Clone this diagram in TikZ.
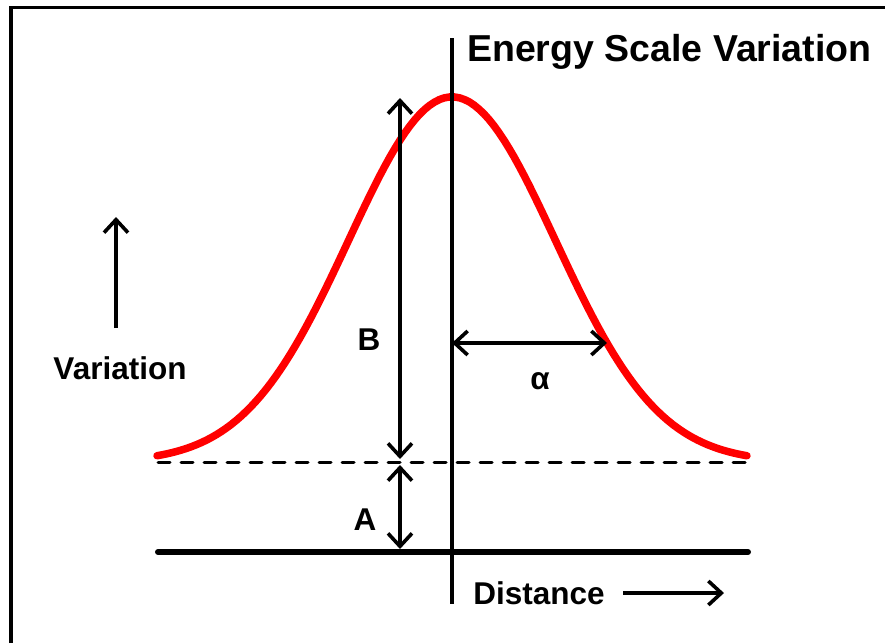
\documentclass[tikz,border=0pt]{standalone}
\usepackage{fontspec}
\setmainfont{Liberation Sans}
\usetikzlibrary{arrows.meta}
\tikzset{
  lbl/.style={font=\bfseries\fontsize{31.5}{36}\selectfont, inner sep=0pt},
  ttl/.style={font=\bfseries\fontsize{37.5}{42}\selectfont, inner sep=0pt, anchor=west},
  dim/.style={line width=3.6pt, {Straight Barb[length=13pt,width=24pt,line width=3.6pt]}-{Straight Barb[length=13pt,width=24pt,line width=3.6pt]}},
  onearrow/.style={line width=3.6pt, -{Straight Barb[length=13pt,width=24pt,line width=3.6pt]}},
  curve/.style={red, line width=7.5pt, line cap=round},
}
\begin{document}
\begin{tikzpicture}[x=1pt,y=-1pt]
\useasboundingbox (0,0) rectangle (885,643);
% frame
\draw[line width=3.5pt] (11,643) -- (11,7.5) -- (890,7.5);
% coordinates
\coordinate (axT) at (452,38);
\coordinate (axB) at (452,604);
\coordinate (baseL) at (158,552);
\coordinate (baseR) at (748,552);
\coordinate (dashL) at (158,462);
\coordinate (dashR) at (748,462);
\coordinate (bTop) at (400,98);
\coordinate (bBot) at (400,459);
\coordinate (aTop) at (400,465);
\coordinate (aBot) at (400,549);
\coordinate (alL) at (452,343);
\coordinate (alR) at (607,343);
\coordinate (vB) at (116,328);
\coordinate (vT) at (116,217);
\coordinate (dL) at (623,593);
\coordinate (dR) at (724,593);
% curve
\draw[curve] plot[domain=-2.95:2.95, samples=120, variable=\t] ({452+100*\t},{462-365*exp(-(\t*\t)/2.1432)});
% lines
\draw[line width=3.5pt] (axT) -- (axB);
\draw[line width=6pt, line cap=round] (baseL) -- (baseR);
\draw[line width=3pt, line cap=round, dash pattern=on 12pt off 11pt] (dashL) -- (dashR);
% arrows
\draw[dim] (bBot) -- (bTop);
\draw[dim] (aTop) -- (aBot);
\draw[dim] (alL) -- (alR);
\draw[onearrow] (vB) -- (vT);
\draw[onearrow] (dL) -- (dR);
% labels
\node[ttl] (title) at (467,52) {Energy Scale Variation};
\node[lbl] (B) at (369,340) {B};
\node[lbl] (A) at (365,520) {A};
\node[lbl] (alpha) at (540,381) {α};
\node[lbl] (var) at (120,368) {Variation};
\node[lbl] (dist) at (539,593) {Distance};
\end{tikzpicture}
\end{document}
